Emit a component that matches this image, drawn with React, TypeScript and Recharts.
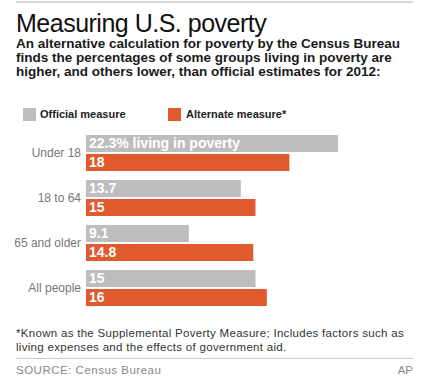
import { BarChart, Bar, XAxis, YAxis, LabelList } from 'recharts';

const GROUPS = ['Under 18', '18 to 64', '65 and older', 'All people'];
const OFFICIAL = [22.3, 13.7, 9.1, 15];
const ALTERNATE = [18, 15, 14.8, 16];
const OFFICIAL_LABELS = ['22.3% living in poverty', '13.7', '9.1', '15'];
const ALTERNATE_LABELS = ['18', '15', '14.8', '16'];

const GRAY = '#bdbdc0';
const ORANGE = '#e05a2e';
const FONT = '"Liberation Sans", Arial, sans-serif';

const chartData = GROUPS.map((group, i) => ({
  group,
  official: OFFICIAL[i],
  alternate: ALTERNATE[i],
  officialLabel: OFFICIAL_LABELS[i],
  alternateLabel: ALTERNATE_LABELS[i],
}));

export default function App() {
  return (
    <div
      style={{
        position: 'absolute',
        top: 0,
        left: 0,
        width: 429,
        height: 388,
        background: '#fff',
        fontFamily: FONT,
        overflow: 'hidden',
      }}
    >
      {/* top rule */}
      <div style={{ position: 'absolute', top: 1, left: 16, width: 397, height: 2, background: '#d6d6d6' }} />

      <div style={{ position: 'absolute', top: 9, left: 16, fontSize: 25, color: '#111', letterSpacing: -0.5, whiteSpace: 'nowrap' }}>
        Measuring U.S. poverty
      </div>
      <div
        style={{
          position: 'absolute',
          top: 37,
          left: 16,
          fontSize: 13.5,
          lineHeight: '14px',
          fontWeight: 'bold',
          color: '#1a1a1a',
          letterSpacing: 0,
          whiteSpace: 'nowrap',
        }}
      >
        <div>An alternative calculation for poverty by the Census Bureau</div>
        <div>finds the percentages of some groups living in poverty are</div>
        <div>higher, and others lower, than official estimates for 2012:</div>
      </div>

      {/* legend */}
      <div style={{ position: 'absolute', top: 108, left: 23, width: 13, height: 13, background: GRAY }} />
      <div style={{ position: 'absolute', top: 108, left: 40, fontSize: 11, fontWeight: 'bold', color: '#222', whiteSpace: 'nowrap' }}>
        Official measure
      </div>
      <div style={{ position: 'absolute', top: 108, left: 168, width: 13, height: 13, background: ORANGE }} />
      <div style={{ position: 'absolute', top: 108, left: 186, fontSize: 11, fontWeight: 'bold', color: '#222', whiteSpace: 'nowrap' }}>
        Alternate measure*
      </div>

      <div style={{ position: 'absolute', top: 130, left: 0 }}>
        <BarChart
          width={429}
          height={180}
          data={chartData}
          layout="vertical"
          margin={{ top: 0, right: 4, bottom: 0, left: 0 }}
          barGap={2}
        >
          <XAxis type="number" domain={[0, 30]} hide />
          <YAxis
            type="category"
            dataKey="group"
            width={86}
            axisLine={false}
            tickLine={false}
            tickSize={0}
            tickMargin={5}
            tick={{ fill: '#777', fontSize: 12, fontFamily: FONT }}
          />
          <Bar dataKey="official" fill={GRAY} barSize={17} isAnimationActive={false}>
            <LabelList
              dataKey="officialLabel"
              position="insideLeft"
              offset={3}
              fill="#fff"
              fontSize={14}
              fontWeight="bold"
              fontFamily={FONT}
            />
          </Bar>
          <Bar dataKey="alternate" fill={ORANGE} barSize={17} isAnimationActive={false}>
            <LabelList
              dataKey="alternateLabel"
              position="insideLeft"
              offset={3}
              fill="#fff"
              fontSize={14}
              fontWeight="bold"
              fontFamily={FONT}
            />
          </Bar>
        </BarChart>
      </div>

      {/* footnote */}
      <div style={{ position: 'absolute', top: 326, left: 16, fontSize: 11.5, lineHeight: '14px', color: '#333', whiteSpace: 'nowrap', letterSpacing: 0.3 }}>
        <div>*Known as the Supplemental Poverty Measure; Includes factors such as</div>
        <div>living expenses and the effects of government aid.</div>
      </div>
      <div style={{ position: 'absolute', top: 358, left: 16, width: 397, height: 1, background: '#ccc' }} />
      <div style={{ position: 'absolute', top: 364, left: 16, fontSize: 11.5, color: '#888', whiteSpace: 'nowrap', letterSpacing: 0.5 }}>
        SOURCE: Census Bureau
      </div>
      <div style={{ position: 'absolute', top: 364, right: 16, fontSize: 11.5, color: '#888' }}>AP</div>
    </div>
  );
}
